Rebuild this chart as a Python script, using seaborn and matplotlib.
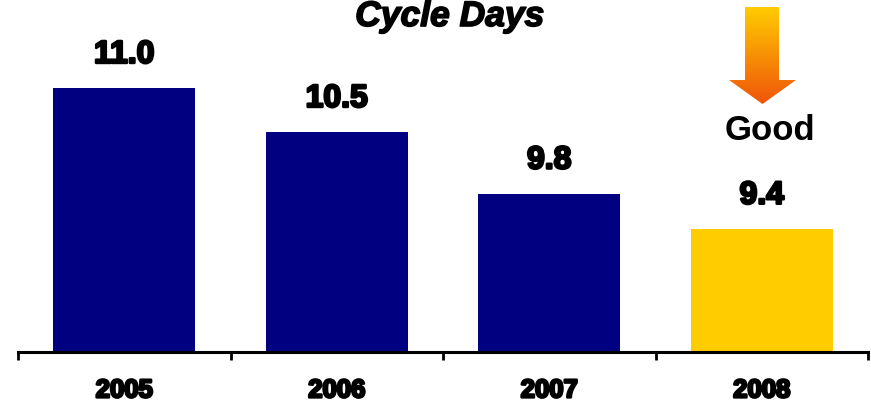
import matplotlib
matplotlib.use("Agg")
import matplotlib.pyplot as plt
import matplotlib.patheffects as pe
import seaborn as sns
import numpy as np
import pandas as pd
from matplotlib.patches import Polygon

years = ["2005", "2006", "2007", "2008"]
values = [11.0, 10.5, 9.8, 9.4]
bar_colors = ["#000080", "#000080", "#000080", "#FFCC00"]
title = "Cycle Days"
note = "Good"

sns.set_theme(style="white")
plt.rcParams['font.family'] = ['Liberation Sans', 'DejaVu Sans']
plt.rcParams['text.color'] = 'black'
plt.rcParams['xtick.color'] = 'black'
plt.rcParams['xtick.labelcolor'] = 'black'

heavy = [pe.withStroke(linewidth=1.8, foreground="black")]

W, H = 871, 404
fig = plt.figure(figsize=(W / 100, H / 100), dpi=100)
ax = fig.add_axes([18 / W, (H - 352) / H, 850 / W, 352 / H])

df = pd.DataFrame({"year": years, "value": values})
sns.barplot(data=df, x="year", y="value", hue="year", palette=bar_colors,
            width=0.67, legend=False, ax=ax, saturation=1, edgecolor="none")

ax.set_ylim(8, 12)
ax.set_xlim(-0.5, 3.5)
ax.set_xlabel("")
ax.set_ylabel("")
ax.set_yticks([])
for s in ["top", "left", "right"]:
    ax.spines[s].set_visible(False)
ax.spines["bottom"].set_linewidth(2.2)
ax.spines["bottom"].set_color("black")

ax.set_xticks(range(len(years)))
ax.set_xticklabels(years, fontsize=18.5, fontweight="bold")
for lbl in ax.get_xticklabels():
    lbl.set_path_effects(heavy)
ax.tick_params(axis="x", which="major", length=0, pad=19)
ax.set_xticks(np.arange(-0.5, len(years), 1.0), minor=True)
ax.tick_params(axis="x", which="minor", length=6, width=2, direction="out", color="black", bottom=True)

for c in ax.containers:
    for t in ax.bar_label(c, fmt="%.1f", padding=13, fontsize=23, fontweight="bold"):
        t.set_path_effects(heavy)

fig.text(449.5 / W, (H - 26) / H, title, ha="center", va="baseline",
         fontsize=25.5, fontweight="bold", fontstyle="italic",
         path_effects=[pe.withStroke(linewidth=1.2, foreground="black")])

# decorative arrow with gradient
aax = fig.add_axes([729 / W, (H - 104) / H, 67 / W, 97 / H])
aax.set_xlim(0, 67)
aax.set_ylim(97, 0)
aax.axis("off")
verts = [(16, 0), (50, 0), (50, 73), (67, 73), (33.5, 97), (0, 73), (16, 73)]
poly = Polygon(verts, closed=True, facecolor="none", edgecolor="none")
aax.add_patch(poly)
top = np.array([1.0, 0.80, 0.0])
bot = np.array([0.94, 0.33, 0.04])
tt = np.linspace(0, 1, 200)[:, None]
grad = (top[None, :] * (1 - tt) + bot[None, :] * tt)[:, None, :]
im = aax.imshow(grad, extent=[0, 67, 97, 0], aspect="auto", origin="upper")
im.set_clip_path(poly)

fig.text(770 / W, (H - 131) / H, note, ha="center", va="center",
         fontsize=25, fontweight="bold")

fig.savefig("out.png", dpi=100)
